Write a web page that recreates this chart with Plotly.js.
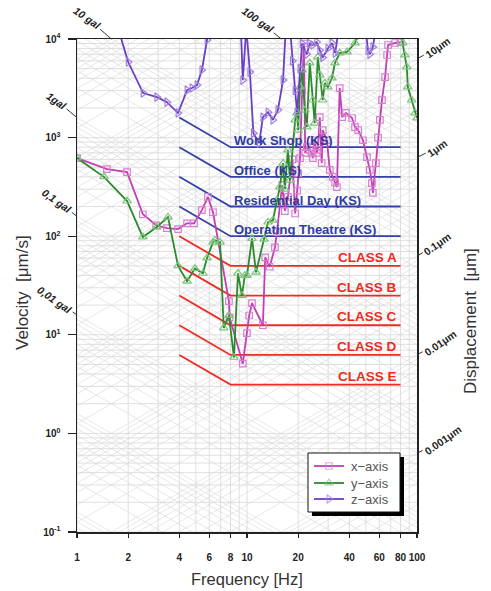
<!DOCTYPE html>
<html>
<head>
<meta charset="utf-8">
<script src="https://cdn.plot.ly/plotly-3.0.1.min.js"></script>
<style>html,body{margin:0;padding:0;background:#fff;}#chart{width:491px;height:591px;}</style>
</head>
<body>
<div id="chart"></div>
<script>
// ---------------- data ----------------
const freqX = [1.0, 1.5, 1.97, 2.44, 2.92, 3.38, 3.93, 4.44, 4.88, 5.43, 5.89, 6.31, 7.83, 7.9, 9.45, 10.0, 10.3, 10.7, 12.4, 12.8, 13.6, 14.6, 15.0, 16.1, 16.7, 17.4, 18.5, 19.2, 19.7, 20.0, 20.5, 21.1, 21.6, 22.0, 22.5, 23.4, 24.0, 24.4, 25.0, 25.7, 26.1, 26.8, 27.5, 27.9, 29.5, 30.7, 32.0, 33.0, 33.8, 35.1, 36.3, 38.2, 41.5, 43.2, 45.1, 48.1, 50.8, 52.8, 54.3, 55.0, 57.3, 59.0, 60.5, 62.2, 64.9, 66.7, 67.6, 74.4, 80.0];
const velX  = [620, 479, 447, 167, 129, 121, 118, 135, 135, 184, 250, 175, 22, 15, 5.1, 10.4, 15.7, 21, 12.5, 61, 49, 77, 110, 330, 180, 250, 600, 170, 290, 435, 620, 3000, 9000, 700, 800, 750, 690, 620, 940, 700, 750, 1610, 550, 1190, 940, 470, 400, 350, 315, 3180, 1610, 1780, 1580, 1280, 1190, 940, 635, 470, 345, 275, 550, 1000, 1510, 2400, 4100, 6880, 8690, 9110, 9300];

const freqY = [1.0, 1.44, 1.97, 2.44, 2.95, 3.43, 3.93, 4.44, 4.94, 5.50, 5.82, 6.31, 6.48, 6.94, 7.3, 7.83, 8.38, 8.85, 9.34, 9.71, 10.0, 10.7, 11.3, 12.6, 13.3, 14.2, 15.0, 15.6, 16.3, 16.7, 17.4, 17.9, 19.2, 19.7, 20.0, 20.5, 21.1, 21.9, 22.5, 23.4, 24.4, 25.0, 26.1, 26.8, 27.9, 28.7, 29.9, 31.6, 32.9, 35.1, 38.8, 43.2, 46.5, 80.0, 82.5, 84.8, 87.1, 88.3, 93.0, 97.4, 100];
const velY  = [620, 400, 227, 98, 124, 156, 50, 35, 47, 42, 60, 87, 91, 87, 11.7, 15.7, 5.9, 42, 25, 40, 40, 95, 43, 93, 139, 145, 233, 315, 550, 300, 750, 370, 1510, 1780, 1190, 3260, 4850, 1900, 1280, 5710, 2400, 1400, 6570, 4310, 2400, 3570, 3260, 4020, 5710, 7210, 7380, 9110, 12000, 12000, 9110, 6880, 5200, 3260, 2400, 1780, 1580];

const freqZ = [1.77, 2.0, 2.45, 2.95, 3.38, 3.93, 4.44, 4.75, 5.08, 5.43, 5.82, 5.95, 9.2, 9.45, 9.9, 10.4, 10.9, 11.8, 12.4, 13.3, 14.2, 15.2, 16.3, 16.9, 17.9, 18.5, 19.2, 19.7, 20.5, 21.1, 22.5, 23.4, 24.4, 25.7, 26.8, 27.9, 29.9, 31.6, 33.0, 34.5, 50.0, 51.5, 52.8, 55.0, 57.0];
const velZ  = [11800, 5840, 2830, 2575, 2290, 1775, 3030, 3180, 3410, 4850, 9770, 12000, 13000, 3830, 13000, 4620, 1110, 880, 1610, 1810, 1510, 1900, 3830, 13000, 13000, 6000, 3000, 1800, 5000, 9000, 7000, 9000, 8700, 9300, 7700, 6500, 8000, 9100, 7200, 12000, 12000, 7700, 7000, 8300, 12000];

const seriesNames = ['x\u2212axis', 'y\u2212axis', 'z\u2212axis'];

// vibration criteria (flat level, um/s)
const ksNames   = ['Work Shop (KS)', 'Office (KS)', 'Residential Day (KS)', 'Operating Theatre (KS)'];
const ksValues  = [800, 400, 200, 100];
const vcNames   = ['CLASS A', 'CLASS B', 'CLASS C', 'CLASS D', 'CLASS E'];
const vcValues  = [50, 25, 12.5, 6.25, 3.125];
const critFreq  = [4, 8, 80];   // start, knee, end

const xTickVals = [1, 2, 4, 6, 8, 10, 20, 40, 60, 80, 100];
const xTickText = ['1', '2', '4', '6', '8', '10', '20', '40', '60', '80', '100'];
const yTickVals = [0.1, 1, 10, 100, 1000, 10000];
const yTickText = ['10<sup>-1</sup>', '10<sup>0</sup>', '10<sup>1</sup>', '10<sup>2</sup>', '10<sup>3</sup>', '10<sup>4</sup>'];

const galLabels = ['10 gal', '100 gal', '1gal', '0,1 gal', '0,01 gal'];
const galValues = [10, 100, 1, 0.1, 0.01];      // gal = cm/s^2
const dispLabels = ['10\u03bcm', '1\u03bcm', '0.1\u03bcm', '0.01\u03bcm', '0.001\u03bcm'];
const dispValues = [10, 1, 0.1, 0.01, 0.001];   // um

// ---------------- construction ----------------
const FONT = 'Liberation Sans, Arial, sans-serif';
const PW = 340, PH = 493, L = 77, B = 532;
const px = p => (p - L) / PW, py = p => (B - p) / PH;   // pixel -> paper
const traces = [];

// tripartite grid
const gx = [], gy = [];
for (let e = 0; e < 2; e++) for (let m = 1; m <= 9; m++) { const f = m * Math.pow(10, e); gx.push(f, f, null); gy.push(0.1, 1e4, null); }
for (let e = -1; e < 4; e++) for (let m = 1; m <= 9; m++) { const v = m * Math.pow(10, e); gx.push(1, 100, null); gy.push(v, v, null); }
traces.push({x: gx, y: gy, mode: 'lines', line: {color: '#d2d2d2', width: 0.7}, hoverinfo: 'skip', showlegend: false});
const dx = [], dy = [];
for (let e = -1; e < 8; e++) for (let m = 1; m <= 9; m++) {
  const A = m * Math.pow(10, e);                 // um/s^2
  dx.push(1, 100, null); dy.push(A / (2 * Math.PI), A / (2 * Math.PI * 100), null);
}
for (let e = -5; e < 4; e++) for (let m = 1; m <= 9; m++) {
  const D = m * Math.pow(10, e);                 // um
  dx.push(1, 100, null); dy.push(2 * Math.PI * D, 2 * Math.PI * 100 * D, null);
}
traces.push({x: dx, y: dy, mode: 'lines', line: {color: '#d6d6d6', width: 0.6}, hoverinfo: 'skip', showlegend: false});

// criteria lines
function critTrace(v, color) {
  return {x: critFreq, y: [2 * v, v, v], mode: 'lines', line: {color: color, width: 1.8}, hoverinfo: 'skip', showlegend: false};
}
ksValues.forEach(v => traces.push(critTrace(v, '#3340a8')));
vcValues.forEach(v => traces.push(critTrace(v, '#ee2a22')));

// measured data
const styles = [
  {line: {color: '#c23fb4', width: 1.8}, marker: {symbol: 'square-open', size: 6.5, color: '#d77fd0', line: {width: 1.2}}},
  {line: {color: '#2b8a2b', width: 1.8}, marker: {symbol: 'triangle-up-open', size: 7.5, color: '#7cc27c', line: {width: 1.2}}},
  {line: {color: '#6b3fc4', width: 1.8}, marker: {symbol: 'triangle-right-open', size: 7.5, color: '#9e7fdc', line: {width: 1.2}}}
];
[[freqX, velX], [freqY, velY], [freqZ, velZ]].forEach((s, i) => traces.push({
  name: seriesNames[i], x: s[0], y: s[1], mode: 'lines+markers', showlegend: false,
  line: styles[i].line, marker: styles[i].marker}));

// legend (box, shadow and keys on an overlay axis in paper units)
function rectTrace(x0, y0, x1, y1, fill, lineColor) {
  return {x: [px(x0), px(x1), px(x1), px(x0), px(x0)], y: [py(y0), py(y0), py(y1), py(y1), py(y0)],
    xaxis: 'x2', yaxis: 'y2', mode: 'lines', fill: 'toself', fillcolor: fill,
    line: {color: lineColor || fill, width: lineColor ? 1 : 0}, hoverinfo: 'skip', showlegend: false};
}
traces.push(rectTrace(312, 457, 404, 516, '#000'));
traces.push(rectTrace(308, 453, 400, 512, '#fff', '#111'));
const legRows = [466, 483, 499];
legRows.forEach((r, i) => traces.push({
  x: [px(314), px(329), px(344)], y: [py(r), py(r), py(r)], xaxis: 'x2', yaxis: 'y2',
  mode: 'lines+markers', hoverinfo: 'skip', showlegend: false,
  line: {color: styles[i].line.color, width: 1.8},
  marker: {symbol: styles[i].marker.symbol, size: [0, styles[i].marker.size, 0], color: styles[i].marker.color, line: {width: 1.2}}
}));

// annotations
const ann = [];
ksNames.forEach((n, i) => ann.push({x: Math.log10(8.2), y: Math.log10(ksValues[i]), xref: 'x', yref: 'y',
  text: n, showarrow: false, xanchor: 'left', yanchor: 'bottom', yshift: -3,
  font: {family: FONT, size: 13, color: '#2e3c9e', weight: 'bold'}}));
vcNames.forEach((n, i) => ann.push({x: Math.log10(78), y: Math.log10(vcValues[i]), xref: 'x', yref: 'y',
  text: n, showarrow: false, xanchor: 'right', yanchor: 'bottom', yshift: -1,
  font: {family: FONT, size: 13.5, color: '#ee2a22', weight: 'bold'}}));

const galOffsets = [[-24, -21], [-23, -19], [-20, -17], [-20, -15], [-22, -15]];
galValues.forEach((g, i) => {
  const A = g * 1e4;              // um/s^2
  let f, v;
  if (A / (2 * Math.PI) > 1e4) { v = 1e4; f = A / (2 * Math.PI * v); } else { f = 1; v = A / (2 * Math.PI); }
  ann.push({x: Math.log10(f), y: Math.log10(v), xref: 'x', yref: 'y', text: galLabels[i], textangle: 35,
    showarrow: true, arrowhead: 0, arrowwidth: 1, arrowcolor: '#333', standoff: 0,
    ax: galOffsets[i][0], ay: galOffsets[i][1],
    font: {family: FONT, size: 10.5, color: '#222', weight: 'bold', style: 'italic'}});
});
const dispOffsets = [[20, -11], [20, -10], [20, -12], [23, -12], [26, -13]];
dispValues.forEach((d, i) => {
  ann.push({x: 2, y: Math.log10(2 * Math.PI * 100 * d), xref: 'x', yref: 'y', text: dispLabels[i], textangle: -35,
    showarrow: true, arrowhead: 0, arrowwidth: 1, arrowcolor: '#333', standoff: 0,
    ax: dispOffsets[i][0], ay: dispOffsets[i][1],
    font: {family: FONT, size: 10.5, color: '#222', weight: 'bold'}});
});
ann.push({xref: 'paper', yref: 'paper', x: px(22), y: py(293), xanchor: 'center', yanchor: 'middle',
  text: 'Velocity  [\u03bcm/s]', textangle: -90, showarrow: false, font: {family: FONT, size: 17, color: '#333'}});
ann.push({xref: 'paper', yref: 'paper', x: px(470), y: py(321), xanchor: 'center', yanchor: 'middle',
  text: 'Displacement  [\u03bcm]', textangle: -90, showarrow: false, font: {family: FONT, size: 17, color: '#333'}});
ann.push({xref: 'paper', yref: 'paper', x: px(247), y: py(579), xanchor: 'center', yanchor: 'middle',
  text: 'Frequency [Hz]', showarrow: false, font: {family: FONT, size: 16.5, color: '#333'}});
legRows.forEach((r, i) => ann.push({xref: 'paper', yref: 'paper', x: px(349), y: py(r), xanchor: 'left', yanchor: 'middle',
  text: seriesNames[i], showarrow: false, font: {family: FONT, size: 13, color: '#555'}}));

const layout = {
  width: 491, height: 591,
  margin: {l: 77, r: 74, t: 39, b: 59},
  paper_bgcolor: '#fff', plot_bgcolor: '#fff',
  showlegend: false,
  xaxis: {type: 'log', range: [0, 2], tickvals: xTickVals, ticktext: xTickText, ticks: 'outside', ticklen: 4,
    tickwidth: 1.3, tickcolor: '#222', showline: true, linecolor: '#222', linewidth: 1.5, mirror: true,
    ticklabelstandoff: 11, tickangle: 0,
    showgrid: false, zeroline: false, tickfont: {family: FONT, size: 10, color: '#222', weight: 'bold'}},
  yaxis: {type: 'log', range: [-1, 4], tickvals: yTickVals, ticktext: yTickText, ticks: 'outside', ticklen: 8,
    tickwidth: 1.3, tickcolor: '#222', showline: true, linecolor: '#222', linewidth: 1.5, mirror: true,
    ticklabelstandoff: 5,
    showgrid: false, zeroline: false, tickfont: {family: FONT, size: 10, color: '#222', weight: 'bold'}},
  xaxis2: {overlaying: 'x', range: [0, 1], visible: false, fixedrange: true},
  yaxis2: {overlaying: 'y', range: [0, 1], visible: false, fixedrange: true},
  annotations: ann
};
Plotly.newPlot('chart', traces, layout, {displayModeBar: false, staticPlot: true});
</script>
</body>
</html>
